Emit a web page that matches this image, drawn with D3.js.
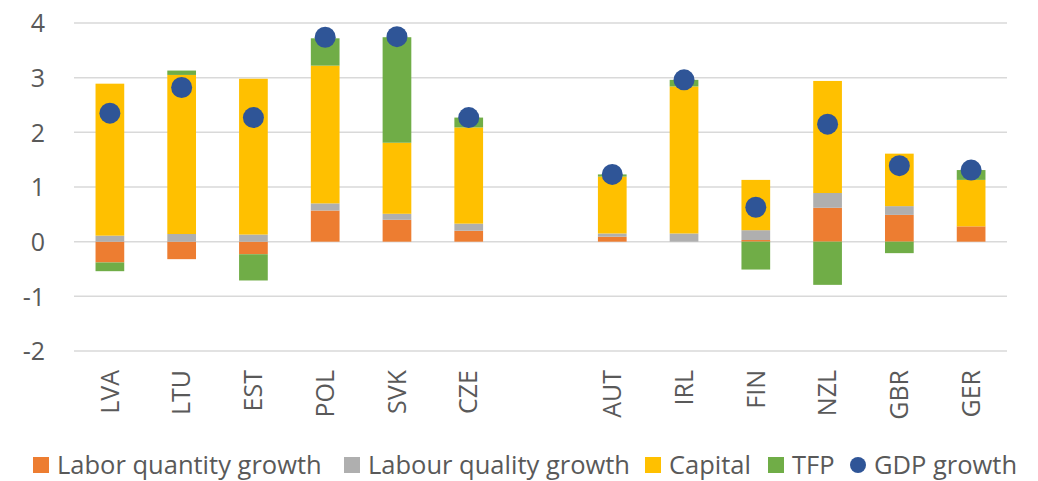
<!DOCTYPE html>
<html>
<head>
<meta charset="utf-8">
<script src="https://cdn.jsdelivr.net/npm/d3@7"></script>
<style>
  html, body { margin: 0; padding: 0; background: #fff; }
  svg { display: block; }
  text { font-family: "Open Sans", "Noto Sans", sans-serif; fill: #595959; }
</style>
</head>
<body>
<svg id="chart" width="1038" height="481"></svg>
<script>
// ---- data ----
const categories = ["LVA", "LTU", "EST", "POL", "SVK", "CZE", "", "AUT", "IRL", "FIN", "NZL", "GBR", "GER"];
const laborQuantity = [-0.38, -0.32, -0.23, 0.57, 0.40, 0.20, null, 0.09, 0.00, 0.03, 0.62, 0.49, 0.28];
const laborQuality  = [0.11, 0.14, 0.13, 0.13, 0.11, 0.13, null, 0.06, 0.15, 0.18, 0.27, 0.16, 0.00];
const capital       = [2.78, 2.91, 2.85, 2.52, 1.30, 1.76, null, 1.04, 2.69, 0.92, 2.05, 0.96, 0.85];
const tfp           = [-0.16, 0.08, -0.48, 0.50, 1.93, 0.18, null, 0.04, 0.12, -0.51, -0.79, -0.21, 0.18];
const gdpGrowth     = [2.35, 2.82, 2.27, 3.74, 3.75, 2.27, null, 1.23, 2.96, 0.63, 2.15, 1.39, 1.31];
const yTicks = [-2, -1, 0, 1, 2, 3, 4];
const seriesNames = ["Labor quantity growth", "Labour quality growth", "Capital", "TFP", "GDP growth"];
const seriesColors = ["#ED7D31", "#AFAFAF", "#FFC000", "#70AD47", "#2F5597"];

// ---- build table ----
const keys = ["lq", "lql", "cap", "tfp"];
const table = categories.map((c, i) => ({
  cat: c, idx: i,
  lq: laborQuantity[i] || 0, lql: laborQuality[i] || 0, cap: capital[i] || 0, tfp: tfp[i] || 0,
  gdp: gdpGrowth[i]
}));

const svg = d3.select("#chart");
const margin = { left: 74, right: 31, top: 23, bottom: 130 };
const W = 1038, H = 481;
const FS = "25px";
const LFS = "25.5px";

const x = d3.scaleBand()
  .domain(categories.map((c, i) => i))
  .range([margin.left, W - margin.right])
  .paddingInner(0.6).paddingOuter(0.3);

const y = d3.scaleLinear().domain([-2, 4]).range([351, 23]);

// gridlines
svg.append("g").selectAll("line").data(yTicks).join("line")
  .attr("x1", margin.left).attr("x2", W - margin.right)
  .attr("y1", d => y(d)).attr("y2", d => y(d))
  .attr("stroke", "#D9D9D9").attr("stroke-width", 1.5);

// y labels
const yAxis = d3.axisLeft(y).tickValues(yTicks).tickSize(0).tickPadding(0).tickFormat(d => String(d));
const gy = svg.append("g").attr("transform", `translate(45,0)`).call(yAxis);
gy.select(".domain").remove();
gy.selectAll("text").style("font-size", FS).attr("fill", "#595959").attr("dy", "0.35em")
  .style("font-family", "'Open Sans', sans-serif");

// stacked bars
const stack = d3.stack().keys(keys).offset(d3.stackOffsetDiverging);
const stacked = stack(table);
svg.append("g").selectAll("g").data(stacked).join("g")
  .attr("fill", (d, i) => seriesColors[i])
  .selectAll("rect").data(d => d.filter(p => p.data.cat !== "")).join("rect")
  .attr("x", d => x(d.data.idx))
  .attr("width", x.bandwidth())
  .attr("y", d => y(Math.max(d[0], d[1])))
  .attr("height", d => Math.abs(y(d[0]) - y(d[1])));

// GDP dots
svg.append("g").selectAll("circle").data(table.filter(d => d.gdp != null)).join("circle")
  .attr("cx", d => x(d.idx) + x.bandwidth() / 2)
  .attr("cy", d => y(d.gdp))
  .attr("r", 10.5)
  .attr("fill", seriesColors[4]);

// x labels (rotated)
const xAxis = d3.axisBottom(x).tickSize(0).tickFormat(i => categories[i]);
const gx = svg.append("g").attr("transform", `translate(0,370)`).call(xAxis);
gx.select(".domain").remove();
gx.selectAll("text")
  .attr("transform", "rotate(-90)")
  .attr("x", 0).attr("y", 0).attr("dy", "0.35em")
  .attr("text-anchor", "end")
  .style("font-size", FS).attr("fill", "#595959")
  .style("font-family", "'Open Sans', sans-serif");

// legend
const legendX = [33, 344, 645, 768, 850];
const lg = svg.append("g");
seriesNames.forEach((name, i) => {
  const g = lg.append("g").attr("transform", `translate(${legendX[i]},465)`);
  if (i < 4) {
    g.append("rect").attr("x", 0).attr("y", -8).attr("width", 16).attr("height", 16).attr("fill", seriesColors[i]);
  } else {
    g.append("circle").attr("cx", 8).attr("cy", 0).attr("r", 8).attr("fill", seriesColors[i]);
  }
  g.append("text").attr("x", 24).attr("y", 0).attr("dy", "0.35em")
    .style("font-size", LFS).attr("fill", "#595959").text(name);
});
</script>
</body>
</html>
